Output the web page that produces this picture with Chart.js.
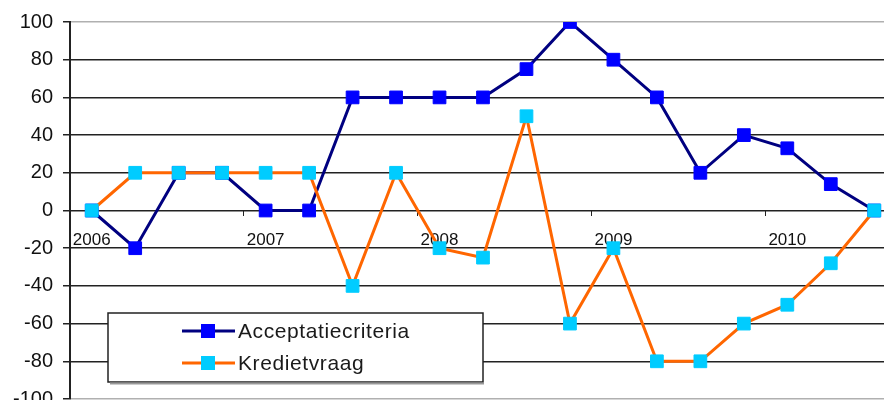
<!DOCTYPE html>
<html>
<head>
<meta charset="utf-8">
<script src="https://cdn.jsdelivr.net/npm/chart.js@4.4.1/dist/chart.umd.min.js"></script>
<style>
  html, body { margin: 0; padding: 0; background: #fff; overflow: hidden; }
  #wrap { position: relative; width: 906px; height: 421px; }
</style>
</head>
<body>
<div id="wrap"><canvas id="myChart"></canvas></div>
<script>
// quarterly points, year label on the first quarter
var quarters = ['2006', '', '', '', '2007', '', '', '', '2008', '', '', '', '2009', '', '', '', '2010', '', ''];
var acceptatiecriteria = [0, -20, 20, 20, 0, 0, 60, 60, 60, 60, 75, 100, 80, 60, 20, 40, 33, 14, 0];
var kredietvraag = [0, 20, 20, 20, 20, 20, -40, 20, -20, -25, 50, -60, -20, -80, -80, -60, -50, -28, 0];
var yTicks = [100, 80, 60, 40, 20, 0, -20, -40, -60, -80, -100];

var FONT = '"Liberation Sans", Arial, sans-serif';

var legendBox = {
    id: 'legendBox',
    afterDraw: function(chart) {
        var ctx = chart.ctx;
        var x = 108, y = 313, w = 375, h = 69;
        ctx.save();
        ctx.fillStyle = '#fff';
        ctx.fillRect(x, y, w, h);
        ctx.strokeStyle = '#222';
        ctx.lineWidth = 1.5;
        ctx.strokeRect(x, y, w, h);
        ctx.strokeStyle = '#999';
        ctx.lineWidth = 2;
        ctx.beginPath();
        ctx.moveTo(x + 2, y + h + 1.5);
        ctx.lineTo(x + w + 1, y + h + 1.5);
        ctx.stroke();

        var rows = [331, 363];
        chart.data.datasets.forEach(function(ds, i) {
            var cy = rows[i];
            ctx.strokeStyle = ds.borderColor;
            ctx.lineWidth = 3;
            ctx.beginPath();
            ctx.moveTo(182, cy);
            ctx.lineTo(235, cy);
            ctx.stroke();
            ctx.fillStyle = ds.pointBackgroundColor;
            ctx.fillRect(201, cy - 7, 14, 14);
            ctx.fillStyle = '#1a1a1a';
            ctx.font = '21px ' + FONT;
            ctx.letterSpacing = '0.6px';
            ctx.textBaseline = 'middle';
            ctx.textAlign = 'left';
            ctx.fillText(ds.label, 238, cy + 1);
        });
        ctx.restore();
    }
};

var ctx = document.getElementById('myChart');
new Chart(ctx, {
    type: 'line',
    data: {
        labels: quarters,
        datasets: [{
            label: 'Acceptatiecriteria',
            data: acceptatiecriteria,
            borderColor: '#000080',
            borderWidth: 3,
            pointStyle: 'rect',
            pointRadius: 9,
            pointBackgroundColor: '#0000ff',
            pointBorderColor: '#0000ff',
            pointBorderWidth: 1,
            tension: 0,
            order: 1
        }, {
            label: 'Kredietvraag',
            data: kredietvraag,
            borderColor: '#ff6600',
            borderWidth: 3,
            pointStyle: 'rect',
            pointRadius: 9,
            pointBackgroundColor: '#00ccff',
            pointBorderColor: '#00ccff',
            pointBorderWidth: 1,
            tension: 0,
            order: 0
        }]
    },
    options: {
        responsive: true,
        maintainAspectRatio: false,
        animation: false,
        events: [],
        layout: { padding: { top: 22, bottom: 12, left: 0, right: 0 } },
        plugins: {
            legend: { display: false },
            tooltip: { enabled: false }
        },
        scales: {
            y: {
                min: -100,
                max: 100,
                afterBuildTicks: function(scale) {
                    scale.ticks = yTicks.map(function(v) { return { value: v }; });
                },
                afterFit: function(scale) { scale.width = 70; },
                border: { display: true, color: '#222', width: 2 },
                grid: {
                    color: function(c) {
                        var v = c.tick ? c.tick.value : 0;
                        return (v === 100 || v === -100) ? '#b0b0b0' : '#222';
                    },
                    lineWidth: 1.5,
                    tickLength: 7,
                    tickColor: '#222'
                },
                ticks: {
                    padding: 10,
                    color: '#111',
                    font: { family: FONT, size: 20 }
                }
            },
            x: {
                position: { y: 0 },
                offset: true,
                border: { display: false },
                grid: {
                    offset: true,
                    drawOnChartArea: false,
                    tickLength: 5,
                    tickColor: function(c) {
                        return (c.index % 4 === 0 && c.index > 0) ? '#222' : 'rgba(0,0,0,0)';
                    }
                },
                ticks: {
                    autoSkip: false,
                    maxRotation: 0,
                    padding: 15,
                    color: '#111',
                    font: { family: FONT, size: 17 }
                }
            }
        }
    },
    plugins: [legendBox]
});
</script>
</body>
</html>
